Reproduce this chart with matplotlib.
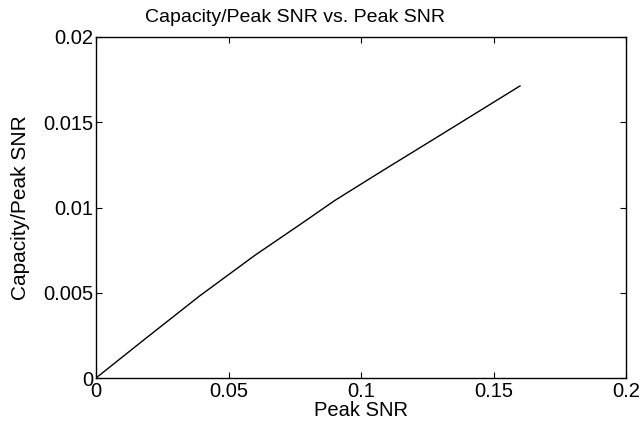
import matplotlib
matplotlib.use("Agg")
import matplotlib.pyplot as plt

# values
peak_snr = [0.0, 0.0185, 0.039, 0.060, 0.077, 0.090, 0.107, 0.130, 0.160]
cap_per_snr = [0.0, 0.00229, 0.0048, 0.0072, 0.0090, 0.0104, 0.01205, 0.01425, 0.01713]

x_ticks = [0, 0.05, 0.1, 0.15, 0.2]
x_tick_labels = ["0", "0.05", "0.1", "0.15", "0.2"]
y_ticks = [0, 0.005, 0.01, 0.015, 0.02]
y_tick_labels = ["0", "0.005", "0.01", "0.015", "0.02"]

plt.rcParams["font.family"] = ["Liberation Sans", "DejaVu Sans"]

fig = plt.figure(figsize=(6.42, 4.24), dpi=100)
ax = fig.add_axes([96 / 642, 46 / 424, 530 / 642, 341 / 424])

ax.plot(peak_snr, cap_per_snr, color="black", linewidth=1.0)

ax.set_xlim(0, 0.2)
ax.set_ylim(0, 0.02)
ax.set_xticks(x_ticks)
ax.set_xticklabels(x_tick_labels)
ax.set_yticks(y_ticks)
ax.set_yticklabels(y_tick_labels)
ax.tick_params(direction="in", length=4, width=0.8, labelsize=14.5,
               top=True, right=True)
ax.tick_params(axis="x", pad=3)
ax.tick_params(axis="y", pad=2)
for s in ax.spines.values():
    s.set_linewidth(1.0)

ax.set_xlabel("Peak SNR", fontsize=14.5, labelpad=0)
ax.set_ylabel("Capacity/Peak SNR", fontsize=15)
ax.yaxis.set_label_coords(-0.125, 0.5)
fig.text(295 / 642, 1 - 17 / 424, "Capacity/Peak SNR vs. Peak SNR",
         fontsize=14, ha="center", va="center")

fig.savefig("out.png", dpi=100)
